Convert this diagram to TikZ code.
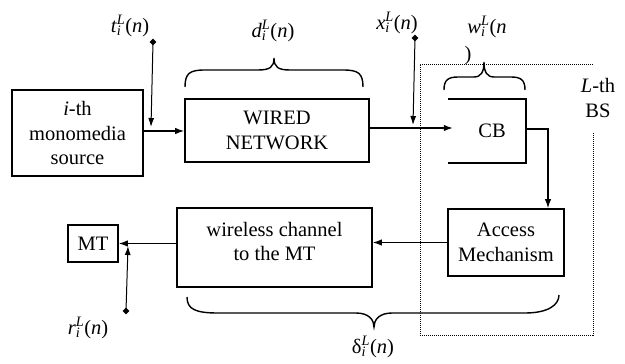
\documentclass[tikz,border=0pt]{standalone}
\usepackage{fontspec}
\setmainfont{Liberation Serif}
\usetikzlibrary{arrows.meta,calc,shapes.geometric}

% italic timing label  x_i^L(n), sub- and superscript stacked
\newcommand{\subsup}{\rlap{\textsubscript{\textit{i}}}\textsuperscript{\textit{L}}}
\newcommand{\tlab}[2][(\textit{n})]{\textit{#2}\subsup#1}

\begin{document}
\begin{tikzpicture}[x=1pt,y=-1pt,
  font=\fontsize{20.5}{24.5}\selectfont,
  box/.style={draw,line width=1.6pt,align=center,inner sep=0pt},
  flow/.style={line width=1.3pt,-{Latex[length=9pt,width=6.5pt]}},
  probe/.style={line width=1pt,-{Latex[length=9pt,width=6pt]}},
  tip/.style={fill,diamond,inner sep=0pt,minimum size=7pt},
  brc/.style={line width=1.4pt},
  bsarea/.style={densely dotted,line width=1pt},
  lab/.style={inner sep=0pt}]
\useasboundingbox (0,0) rectangle (625,364);

% blocks
\node[box,minimum width=131pt,minimum height=86pt] (src) at (77.5,133) {\textit{i}-th\\monomedia\\source};
\node[box,minimum width=184pt,minimum height=63pt] (wired) at (277,130.5) {WIRED\\NETWORK};
\node[inner sep=0pt,minimum width=78pt,minimum height=64pt] (cb) at (487,131) {\hspace*{10pt}CB};
\draw[line width=1.6pt] (cb.north west) -- (cb.north east) -- (cb.south east) -- (cb.south west);
\node[box,minimum width=116pt,minimum height=67pt] (acc) at (506,242.5) {Access\\Mechanism};
\node[box,minimum width=195pt,minimum height=79pt] (wl) at (274.5,247.5) {};
\node[lab,align=center] (wltxt) at ([yshift=6pt]wl.center) {wireless channel\\to the MT};
\node[box,minimum width=50pt,minimum height=37pt] (mt) at (93,243.5) {MT};

% base station area
\draw[bsarea] (593,64) -- (420,64) -- (420,335) -- (593,335) -- (593,133);
\node[lab,align=center] (bs) at (598,98) {\textit{L}-th\\BS};

% data path
\draw[flow] (src.east |- 0,131) -- (wired.west |- 0,131);
\draw[flow] (wired.east |- 0,128) -- ([xshift=5pt]cb.west |- 0,128);
\draw[flow] (cb.east |- 0,129) -| ([xshift=42pt]acc.north);
\draw[flow] (acc.west) -- (acc.west -| wl.east);
\draw[flow] (mt.east -| wl.west) -- (mt.east);

% measurement points
\node[tip] (td) at (153,42) {};
\node[tip] (xd) at (415,38) {};
\node[tip] (rd) at (126,311) {};
\draw[probe] (td.center) -- (151,127);
\draw[probe] (xd.center) -- (413,125);
\draw[probe] (rd.center) -- (128,246);

\node[lab] (tl) at (130,26) {\tlab{t}};
\node[lab] (xl) at (397,23) {\tlab{x}};
\node[lab] (rl) at (88,328) {\tlab{r}};

% delay braces
\draw[brc] (185,87) .. controls (185,73) and (190,70) .. (205,70) -- (258,70)
  .. controls (270,70) and (274,67) .. (274,58)
  .. controls (274,67) and (278,70) .. (290,70) -- (343,70)
  .. controls (358,70) and (363,73) .. (363,87);
\node[lab] (dl) at (273,31) {\tlab{d}};

\draw[brc] (444,90) .. controls (444,80) and (448,77) .. (458,77) -- (474,77)
  .. controls (481,77) and (484,72) .. (484,62)
  .. controls (484,72) and (487,77) .. (494,77) -- (511,77)
  .. controls (521,77) and (525,80) .. (525,90);
\node[lab] (wl1) at (487,27) {\tlab[(\textit{n}]{w}};
\node[lab] (wl2) at (468,56) {)};

\draw[brc] (187,297) .. controls (187,309) and (195,313) .. (218,313) -- (356,313)
  .. controls (369,313) and (374,320) .. (374,327)
  .. controls (374,320) and (379,313) .. (392,313) -- (525,313)
  .. controls (548,313) and (559,305) .. (559,295);
\node[lab] (dlt) at (373,347) {δ\subsup(\textit{n})};
\end{tikzpicture}
\end{document}
